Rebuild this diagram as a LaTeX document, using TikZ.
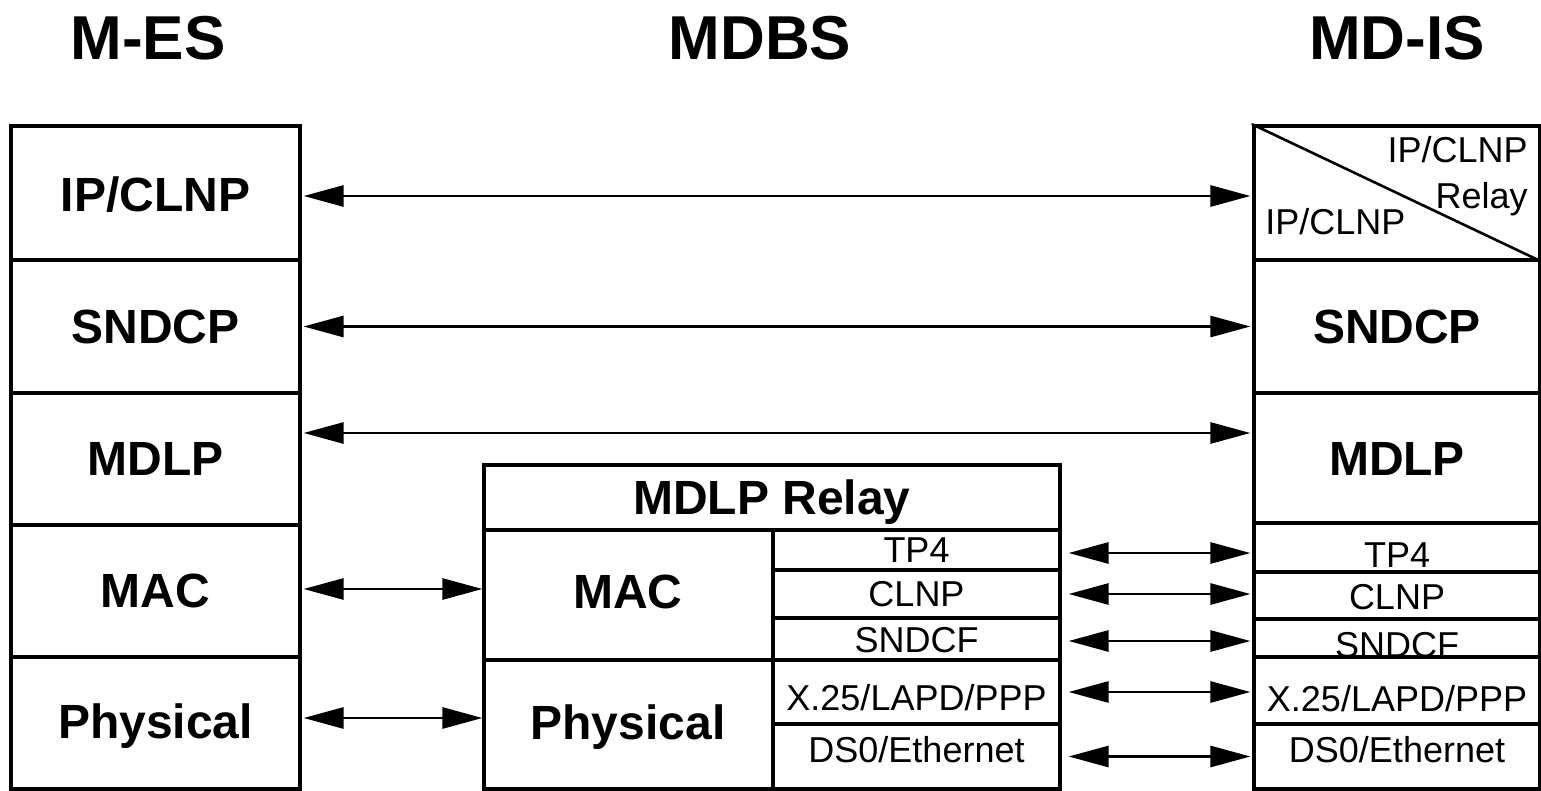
\documentclass[tikz,border=0pt]{standalone}
\usepackage{fontspec}
\setmainfont{Liberation Sans}
\usetikzlibrary{fit,arrows.meta}
\begin{document}
\begin{tikzpicture}[x=0.5pt,y=-0.5pt,
 cell/.style={draw,line width=1.6pt,inner sep=0pt},
 ttl/.style={font=\fontsize{31}{36}\selectfont\bfseries,inner sep=0pt,text height=22.2pt,text depth=0pt},
 blab/.style={font=\fontsize{24}{28}\selectfont\bfseries,inner sep=0pt,text height=17.2pt,text depth=0pt},
 rlab/.style={font=\fontsize{18}{22}\selectfont,inner sep=0pt,text height=12.9pt,text depth=0pt},
 tip/.tip={Triangle[length=20pt,width=10.5pt]},
 link/.style={line width=1.4pt,tip-tip,shorten <=1pt,shorten >=1pt}]
\useasboundingbox (0,0) rectangle (1541,791);

% titles
\node[ttl] (t1) at (148,37) {M-ES};
\node[ttl] (t2) at (760,37) {MDBS};
\node[ttl] (t3) at (1397,37) {MD-IS};

% labels (drawn before cells so cell borders lie on top)
\node[blab] (a1) at (155.5,194) {IP/CLNP};
\node[blab] (a2) at (155.5,326) {SNDCP};
\node[blab] (a3) at (155.5,458) {MDLP};
\node[blab] (a4) at (155.5,590) {MAC};
\node[blab] (a5) at (155.5,721) {Physical};

\node[blab] (b0) at (772,497) {MDLP Relay};
\node[blab] (b1) at (628,591) {MAC};
\node[blab] (b2) at (628,722) {Physical};
\node[rlab] (b3) at (916.5,550) {TP4};
\node[rlab] (b4) at (916.5,594) {CLNP};
\node[rlab] (b5) at (916.5,640) {SNDCF};
\node[rlab] (b6) at (916.5,698) {X.25/LAPD/PPP};
\node[rlab] (b7) at (916.5,750) {DS0/Ethernet};

\node[rlab,anchor=east] (c1) at (1528,150) {IP/CLNP};
\node[rlab,anchor=east] (c2) at (1528,196) {Relay};
\node[rlab,anchor=west] (c3) at (1265,222) {IP/CLNP};
\node[blab] (c4) at (1397,326) {SNDCP};
\node[blab] (c5) at (1397,458) {MDLP};
\node[rlab] (c6) at (1397,555) {TP4};
\node[rlab] (c7) at (1397,597) {CLNP};
\node[rlab] (c8) at (1397,645) {SNDCF};
\node[rlab] (c9) at (1397,699) {X.25/LAPD/PPP};
\node[rlab] (c10) at (1397,750) {DS0/Ethernet};

% M-ES stack
\node[cell,fit={(11,126)(300,260)}] (l1) {};
\node[cell,fit={(11,260)(300,393)}] (l2) {};
\node[cell,fit={(11,393)(300,525)}] (l3) {};
\node[cell,fit={(11,525)(300,657)}] (l4) {};
\node[cell,fit={(11,657)(300,789)}] (l5) {};

% MDBS stack
\node[cell,fit={(484,465)(1060,530)}] (m0) {};
\node[cell,fit={(484,530)(773,660)}] (mmac) {};
\node[cell,fit={(484,660)(773,789)}] (mphy) {};
\node[cell,fit={(773,530)(1060,570)}] (mtp4) {};
\node[cell,fit={(773,570)(1060,618)}] (mclnp) {};
\node[cell,fit={(773,618)(1060,660)}] (msndcf) {};
\node[cell,fit={(773,660)(1060,724)}] (mx25) {};
\node[cell,fit={(773,724)(1060,789)}] (mds0) {};

% MD-IS stack
\node[cell,fit={(1254,126)(1540,260)}] (r1) {};
\node[cell,fit={(1254,260)(1540,393)}] (r2) {};
\node[cell,fit={(1254,393)(1540,523)}] (r3) {};
\node[cell,fit={(1254,523)(1540,572)}] (rtp4) {};
\node[cell,fit={(1254,572)(1540,619)}] (rclnp) {};
\node[cell,fit={(1254,619)(1540,657)}] (rsndcf) {};
\node[cell,fit={(1254,657)(1540,724)}] (rx25) {};
\node[cell,fit={(1254,724)(1540,789)}] (rds0) {};
\draw[line width=1.3pt,line cap=round] (r1.north west) -- (r1.south east);

% connectors
\draw[link] ([yshift=-1.5pt]l1.east) -- ([yshift=-1.5pt]l1.east -| r1.west);
\draw[link] (l2.east) -- (l2.east -| r2.west);
\draw[link] ([yshift=13pt]l3.east) -- ([yshift=13pt]l3.east -| r3.west);
\draw[link,shorten >=0pt] ([yshift=1pt]l4.east) -- ([yshift=1pt]l4.east -| mmac.west);
\draw[link,shorten >=0pt] ([yshift=2.5pt]l5.east) -- ([yshift=2.5pt]l5.east -| mphy.west);
\draw[link,shorten <=3.5pt] ([yshift=-1.5pt]mtp4.east) -- ([yshift=-1.5pt]mtp4.east -| rtp4.west);
\draw[link,shorten <=3.5pt] (mclnp.east) -- (mclnp.east -| rclnp.west);
\draw[link,shorten <=3.5pt] ([yshift=-1pt]msndcf.east) -- ([yshift=-1pt]msndcf.east -| rsndcf.west);
\draw[link,shorten <=3.5pt] (mx25.east) -- (mx25.east -| rx25.west);
\draw[link,shorten <=3.5pt] (mds0.east) -- (mds0.east -| rds0.west);
\end{tikzpicture}
\end{document}
